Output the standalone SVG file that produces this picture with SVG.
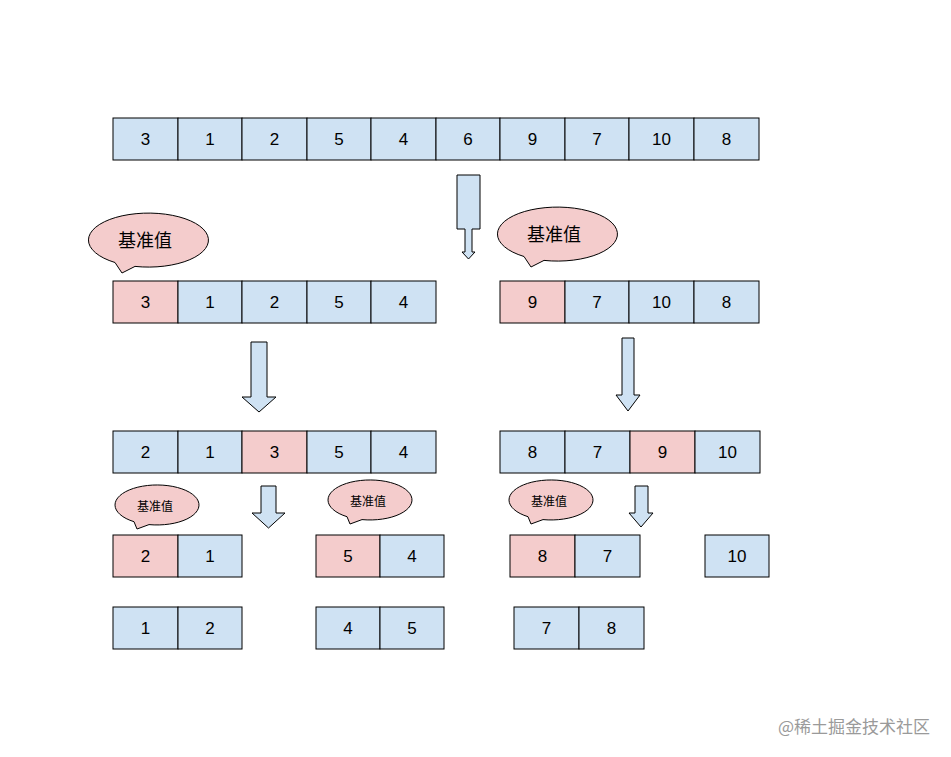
<svg xmlns="http://www.w3.org/2000/svg" xmlns:xlink="http://www.w3.org/1999/xlink" width="951" height="757" viewBox="0 0 951 757">
<style>
.b{fill:#cfe2f3;stroke:#000;stroke-width:1}
.p{fill:#f4cccc;stroke:#000;stroke-width:1}
.t{font-family:"Liberation Sans",Arial,sans-serif;font-size:17px;text-anchor:middle;dominant-baseline:central;fill:#000}
.c{font-family:"Noto Sans CJK SC",sans-serif;text-anchor:middle;dominant-baseline:central;fill:#000}
.bub{fill:#f4cccc;stroke:#000;stroke-width:1}
.ar{fill:#cfe2f3;stroke:#000;stroke-width:1}
</style>
<defs>
<path id="bb" d="M-13,26.4 A60,27 0 1,0 -33,22.5 L-26,33 Z"/>
<path id="sb" d="M-8,19.6 A42,20 0 1,0 -23,16.7 L-20,24 Z"/>
</defs>
<rect width="951" height="757" fill="#fff"/>
<g id="row1">
<rect class="b" x="113" y="118" width="65" height="42"/><text class="t" x="145.5" y="139">3</text>
<rect class="b" x="178" y="118" width="64" height="42"/><text class="t" x="210" y="139">1</text>
<rect class="b" x="242" y="118" width="65" height="42"/><text class="t" x="274.5" y="139">2</text>
<rect class="b" x="307" y="118" width="64" height="42"/><text class="t" x="339" y="139">5</text>
<rect class="b" x="371" y="118" width="65" height="42"/><text class="t" x="403.5" y="139">4</text>
<rect class="b" x="436" y="118" width="64" height="42"/><text class="t" x="468" y="139">6</text>
<rect class="b" x="500" y="118" width="65" height="42"/><text class="t" x="532.5" y="139">9</text>
<rect class="b" x="565" y="118" width="64" height="42"/><text class="t" x="597" y="139">7</text>
<rect class="b" x="629" y="118" width="65" height="42"/><text class="t" x="661.5" y="139">10</text>
<rect class="b" x="694" y="118" width="65" height="42"/><text class="t" x="726.5" y="139">8</text>
</g>
<g id="row2-left">
<rect class="p" x="113" y="281" width="65" height="42"/><text class="t" x="145.5" y="302">3</text>
<rect class="b" x="178" y="281" width="64" height="42"/><text class="t" x="210" y="302">1</text>
<rect class="b" x="242" y="281" width="65" height="42"/><text class="t" x="274.5" y="302">2</text>
<rect class="b" x="307" y="281" width="64" height="42"/><text class="t" x="339" y="302">5</text>
<rect class="b" x="371" y="281" width="65" height="42"/><text class="t" x="403.5" y="302">4</text>
</g>
<g id="row2-right">
<rect class="p" x="500" y="281" width="65" height="42"/><text class="t" x="532.5" y="302">9</text>
<rect class="b" x="565" y="281" width="64" height="42"/><text class="t" x="597" y="302">7</text>
<rect class="b" x="629" y="281" width="65" height="42"/><text class="t" x="661.5" y="302">10</text>
<rect class="b" x="694" y="281" width="65" height="42"/><text class="t" x="726.5" y="302">8</text>
</g>
<g id="row3-left">
<rect class="b" x="113" y="431" width="65" height="42"/><text class="t" x="145.5" y="452">2</text>
<rect class="b" x="178" y="431" width="64" height="42"/><text class="t" x="210" y="452">1</text>
<rect class="p" x="242" y="431" width="65" height="42"/><text class="t" x="274.5" y="452">3</text>
<rect class="b" x="307" y="431" width="64" height="42"/><text class="t" x="339" y="452">5</text>
<rect class="b" x="371" y="431" width="65" height="42"/><text class="t" x="403.5" y="452">4</text>
</g>
<g id="row3-right">
<rect class="b" x="500" y="431" width="65" height="42"/><text class="t" x="532.5" y="452">8</text>
<rect class="b" x="565" y="431" width="65" height="42"/><text class="t" x="597.5" y="452">7</text>
<rect class="p" x="630" y="431" width="65" height="42"/><text class="t" x="662.5" y="452">9</text>
<rect class="b" x="695" y="431" width="65" height="42"/><text class="t" x="727.5" y="452">10</text>
</g>
<g id="row4">
<rect class="p" x="113" y="535" width="65" height="42"/><text class="t" x="145.5" y="556">2</text>
<rect class="b" x="178" y="535" width="64" height="42"/><text class="t" x="210" y="556">1</text>
<rect class="p" x="316" y="535" width="64" height="42"/><text class="t" x="348" y="556">5</text>
<rect class="b" x="380" y="535" width="64" height="42"/><text class="t" x="412" y="556">4</text>
<rect class="p" x="510" y="535" width="65" height="42"/><text class="t" x="542.5" y="556">8</text>
<rect class="b" x="575" y="535" width="65" height="42"/><text class="t" x="607.5" y="556">7</text>
<rect class="b" x="705" y="535" width="64" height="42"/><text class="t" x="737" y="556">10</text>
</g>
<g id="row5">
<rect class="b" x="113" y="607" width="65" height="42"/><text class="t" x="145.5" y="628">1</text>
<rect class="b" x="178" y="607" width="64" height="42"/><text class="t" x="210" y="628">2</text>
<rect class="b" x="316" y="607" width="64" height="42"/><text class="t" x="348" y="628">4</text>
<rect class="b" x="380" y="607" width="64" height="42"/><text class="t" x="412" y="628">5</text>
<rect class="b" x="514" y="607" width="65" height="42"/><text class="t" x="546.5" y="628">7</text>
<rect class="b" x="579" y="607" width="65" height="42"/><text class="t" x="611.5" y="628">8</text>
</g>
<g id="bubbles">
<use xlink:href="#bb" class="bub" x="148" y="240"/><text class="c" x="145" y="239" font-size="18">基准值</text>
<use xlink:href="#bb" class="bub" x="557" y="234"/><text class="c" x="554" y="233" font-size="18">基准值</text>
<use xlink:href="#sb" class="bub" x="157" y="505"/><text class="c" x="155" y="505" font-size="12">基准值</text>
<use xlink:href="#sb" class="bub" x="370" y="500"/><text class="c" x="368" y="500" font-size="12">基准值</text>
<use xlink:href="#sb" class="bub" x="551" y="500"/><text class="c" x="549" y="500" font-size="12">基准值</text>
</g>
<g id="connectors">
<path class="ar" d="M457,175 H480 V229 H472 V252 H475 L468.5,259 L462,252 H465 V229 H457 Z"/>
<path class="ar" d="M251,342 H267 V397 H276 L259,412 L242,397 H251 Z"/>
<path class="ar" d="M622,338 H634 V395 H640 L628,411 L616,395 H622 Z"/>
<path class="ar" d="M261,486 H276 V513 H285 L268.5,528 L252,513 H261 Z"/>
<path class="ar" d="M635,486 H648 V513 H653 L641,527 L629,513 H635 Z"/>
</g>
<text x="930" y="725" font-family="Noto Sans CJK SC,sans-serif" font-size="17" fill="#9a9a9a" text-anchor="end" dominant-baseline="central">@稀土掘金技术社区</text>
</svg>
